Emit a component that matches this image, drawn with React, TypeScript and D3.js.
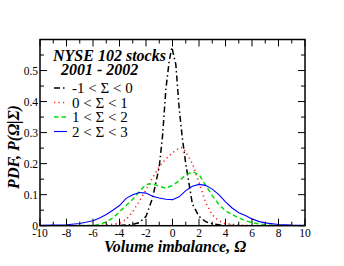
import React from 'react';
import * as d3 from 'd3';

type Pt = [number, number];

// Omega, PDF pairs
const sigmaNeg1to0: Pt[] = [
  [-5, 0], [-4, 0.0005], [-3.5, 0.002], [-3, 0.004], [-2.5, 0.01], [-2, 0.03], [-1.5, 0.09],
  [-1, 0.19], [-0.75, 0.29], [-0.5, 0.44], [-0.25, 0.53], [-0.05, 0.575], [0.25, 0.52],
  [0.5, 0.38], [0.75, 0.28], [1, 0.2], [1.5, 0.07], [2, 0.03], [2.5, 0.013], [3, 0.006],
  [3.5, 0.003], [4, 0.001], [5, 0],
];
const sigma0to1: Pt[] = [
  [-6, 0], [-5, 0.002], [-4, 0.008], [-3.5, 0.02], [-3, 0.045], [-2.5, 0.08], [-2, 0.115],
  [-1.5, 0.155], [-1, 0.19], [-0.5, 0.215], [0, 0.235], [0.5, 0.25], [0.75, 0.252], [1, 0.238],
  [1.5, 0.2], [2, 0.14], [2.5, 0.075], [3, 0.035], [3.5, 0.016], [4, 0.007], [5, 0.002], [6, 0],
];
const sigma1to2: Pt[] = [
  [-7, 0], [-6, 0.001], [-5.5, 0.004], [-5, 0.012], [-4.5, 0.025], [-4, 0.045], [-3.5, 0.065],
  [-3, 0.085], [-2.5, 0.11], [-2, 0.133], [-1.5, 0.135], [-1, 0.127], [-0.5, 0.121], [0, 0.13],
  [0.5, 0.145], [1, 0.163], [1.5, 0.174], [2, 0.165], [2.5, 0.13], [3, 0.097], [3.5, 0.068],
  [4, 0.048], [4.5, 0.036], [5, 0.025], [5.5, 0.016], [6, 0.01], [7, 0.003], [8, 0],
];
const sigma2to3: Pt[] = [
  [-10, 0.001], [-9, 0.002], [-8, 0.003], [-7, 0.007], [-6, 0.016], [-5.5, 0.025], [-5, 0.036],
  [-4.5, 0.05], [-4, 0.065], [-3.5, 0.088], [-3, 0.1], [-2.5, 0.107], [-2, 0.105], [-1.5, 0.095],
  [-1, 0.089], [-0.5, 0.085], [0, 0.084], [0.5, 0.093], [1, 0.113], [1.5, 0.127], [2, 0.133],
  [2.5, 0.13], [3, 0.118], [3.5, 0.1], [4, 0.077], [4.5, 0.057], [5, 0.042], [5.5, 0.033],
  [6, 0.022], [6.5, 0.014], [7, 0.009], [8, 0.004], [9, 0.002], [10, 0.001],
];

const legendLabels = ['-1 < \u03A3 < 0', '0 < \u03A3 < 1', '1 < \u03A3 < 2', '2 < \u03A3 < 3'];
const xTicks = [-10, -8, -6, -4, -2, 0, 2, 4, 6, 8, 10];
const yTicks = [0, 0.1, 0.2, 0.3, 0.4, 0.5];

const series = [
  { data: sigmaNeg1to0, color: '#000000', dash: '6,3,1.5,3', width: 1.5 },
  { data: sigma0to1, color: '#ff2020', dash: '1.2,3.3', width: 1.6 },
  { data: sigma1to2, color: '#00e000', dash: '4.5,3', width: 1.5 },
  { data: sigma2to3, color: '#0000ff', dash: null, width: 1.1 },
];

const W = 344;
const H = 266;
const L = 40;
const R = 305;
const T = 39.5;
const B = 225.7;
const font = "'Times New Roman', 'Liberation Serif', serif";

export default function App() {
  const x = d3.scaleLinear().domain([-10, 10]).range([L, R]);
  const y = d3.scaleLinear().domain([0, 0.6]).range([B, T]);
  const line = d3.line<Pt>().x((d) => x(d[0])).y((d) => y(d[1]));

  const xMinor = d3.range(-10, 10.01, 1);
  const yMinor = d3.range(0, 0.6001, 0.05);

  return (
    <svg width={W} height={H} style={{ position: 'absolute', left: 0, top: 0, background: '#fff' }}>
      <defs>
        <clipPath id="plot">
          <rect x={L} y={T} width={R - L} height={B - T} />
        </clipPath>
      </defs>

      {/* curves */}
      <g clipPath="url(#plot)">
        {series.map((s, i) => (
          <path
            key={i}
            d={line(s.data) || ''}
            fill="none"
            stroke={s.color}
            strokeWidth={s.width}
            strokeDasharray={s.dash || undefined}
          />
        ))}
      </g>

      {/* ticks, inward on all four sides */}
      <g stroke="#000" strokeWidth={1}>
        {xMinor.map((v) => {
          const len = Math.round(v) % 2 === 0 ? 7 : 4;
          return (
            <g key={'x' + v}>
              <line x1={x(v)} x2={x(v)} y1={B} y2={B - len} />
              <line x1={x(v)} x2={x(v)} y1={T} y2={T + len} />
            </g>
          );
        })}
        {yMinor.map((v, i) => {
          const len = i % 2 === 0 ? 7 : 4;
          return (
            <g key={'y' + i}>
              <line x1={L} x2={L + len} y1={y(v)} y2={y(v)} />
              <line x1={R} x2={R - len} y1={y(v)} y2={y(v)} />
            </g>
          );
        })}
      </g>
      <rect x={L} y={T} width={R - L} height={B - T} fill="none" stroke="#000" strokeWidth={1.5} />

      {/* tick labels */}
      <g style={{ fontFamily: font }} fontSize={11.5} fill="#000">
        {xTicks.map((v) => (
          <text key={v} x={x(v)} y={B + 11} textAnchor="middle">{v}</text>
        ))}
        {yTicks.map((v) => (
          <text key={v} x={L - 2} y={y(v) + 4} textAnchor="end">{v === 0 ? '0' : v.toFixed(1)}</text>
        ))}
      </g>

      {/* axis titles */}
      <text x={175} y={252} textAnchor="middle" style={{ fontFamily: font }} fontSize={16}
        fontWeight="bold" fontStyle="italic">Volume imbalance, {'\u03A9'}</text>
      <text transform={`translate(19, 147) rotate(-90)`} textAnchor="middle" style={{ fontFamily: font }}
        fontSize={16} fontWeight="bold" fontStyle="italic">PDF,  P({'\u03A9|\u03A3'})</text>

      {/* legend */}
      <g style={{ fontFamily: font }}>
        <text x={53} y={61} fontSize={16} fontWeight="bold" fontStyle="italic">NYSE 102 stocks</text>
        <text x={61} y={75} fontSize={16} fontWeight="bold" fontStyle="italic">2001 - 2002</text>
        {series.map((s, i) => {
          const ly = 88 + i * 14.5;
          return (
            <g key={i}>
              <line x1={54} x2={67} y1={ly} y2={ly} stroke={s.color} strokeWidth={s.width}
                strokeDasharray={s.dash || undefined} />
              <text x={72} y={ly + 5} fontSize={15}>{legendLabels[i]}</text>
            </g>
          );
        })}
      </g>
    </svg>
  );
}
